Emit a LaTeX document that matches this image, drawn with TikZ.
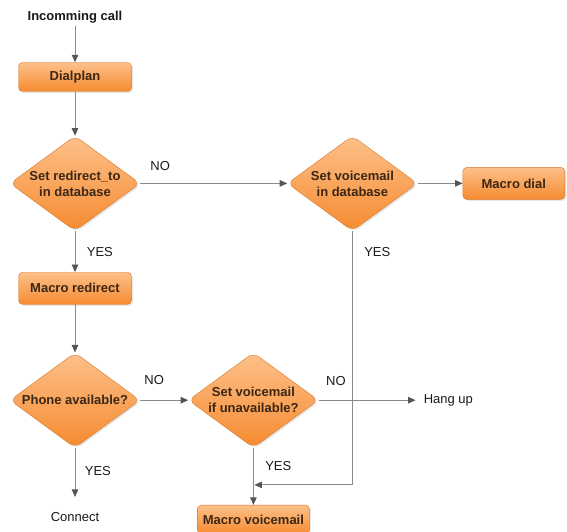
\documentclass[tikz,border=0pt]{standalone}
\usepackage{fontspec}
\setmainfont{Liberation Sans}
\usetikzlibrary{shapes.geometric, shadows, positioning, arrows.meta}

\definecolor{boxtop}{HTML}{FDC08A}
\definecolor{boxbot}{HTML}{F68B30}
\definecolor{boxedge}{HTML}{D9792A}
\definecolor{boxtext}{HTML}{3B2714}
\definecolor{linegray}{HTML}{8A8A8A}
\definecolor{tipgray}{HTML}{555555}

\begin{document}
\begin{tikzpicture}[
        font=\fontsize{13}{16}\selectfont,
        node distance=45pt and 45pt,
        % Styles
        step_box/.style={draw=boxedge, top color=boxtop, bottom color=boxbot, rounded corners=4pt, minimum width=113pt, minimum height=30pt, inner sep=2pt, font=\fontsize{13}{16}\selectfont\bfseries, text=boxtext, drop shadow={opacity=0.2, shadow xshift=1.5pt, shadow yshift=-1.5pt}},
        decision/.style={step_box, diamond, shape aspect=1.37, minimum width=130pt, minimum height=95pt, inner sep=0pt, rounded corners=7pt, align=center},
        plain_text/.style={inner sep=3pt, text=black!90},
        answer/.style={inner sep=2pt, text=black!90},
        arrow/.style={-{Triangle[length=7.5pt, width=6.5pt, color=tipgray]}, line width=0.8pt, draw=linegray}
    ]
    \useasboundingbox (0pt,0pt) rectangle (567pt,-532pt);

    % Left column
    \node[plain_text, font=\fontsize{13}{16}\selectfont\bfseries] (incoming) at (75pt,-17pt) {Incomming call};
    \node[step_box, below=36pt of incoming, minimum height=29pt] (dialplan) {Dialplan};
    \node[decision, below=44pt of dialplan] (redirectq) {Set redirect\_to\\in database};
    \node[step_box, below=41pt of redirectq, minimum height=32pt] (redirect) {Macro redirect};
    \node[decision, below=48pt of redirect] (phoneq) {Phone available?};
    \node[plain_text, below=61pt of phoneq] (connect) {Connect};

    % Right-hand nodes
    \node[decision, right=147pt of redirectq] (voicemailq) {Set voicemail\\in database};
    \node[step_box, right=45pt of voicemailq, minimum width=102pt, minimum height=32pt] (dial) {Macro dial};
    \node[decision, right=48pt of phoneq] (unavailq) {Set voicemail\\if unavailable?};
    \node[step_box, below=57pt of unavailq, minimum width=112pt, minimum height=29pt] (voicemail) {Macro voicemail};
    \node[plain_text, right=102pt of unavailq] (hangup) {Hang up};
    \coordinate[below=37pt of unavailq.south] (merge);

    % Connectors
    \draw[arrow] (incoming) -- (dialplan);
    \draw[arrow] (dialplan) -- (redirectq);
    \draw[arrow] (redirectq) -- node[answer, pos=0.136, above=10pt] {NO} (voicemailq);
    \draw[arrow] (redirectq) -- node[answer, midway, right=9.5pt] {YES} (redirect);
    \draw[arrow] (voicemailq) -- (dial);
    \draw[arrow] (redirect) -- (phoneq);
    \draw[arrow] (phoneq) -- node[answer, pos=0.29, above=13pt] {NO} (unavailq);
    \draw[arrow, shorten >=12pt] (phoneq) -- node[answer, pos=0.38, right=7.5pt] {YES} (connect);
    \draw[arrow, shorten >=5pt] (unavailq) -- node[answer, pos=0.17, above=12pt] {NO} (hangup);
    \draw[arrow] (unavailq) -- node[answer, pos=0.32, right=9.5pt] {YES} (voicemail);
    \draw[arrow, shorten >=1pt] (voicemailq.south) |- node[answer, pos=0.042, right=9.5pt] {YES} (merge);

\end{tikzpicture}
\end{document}
